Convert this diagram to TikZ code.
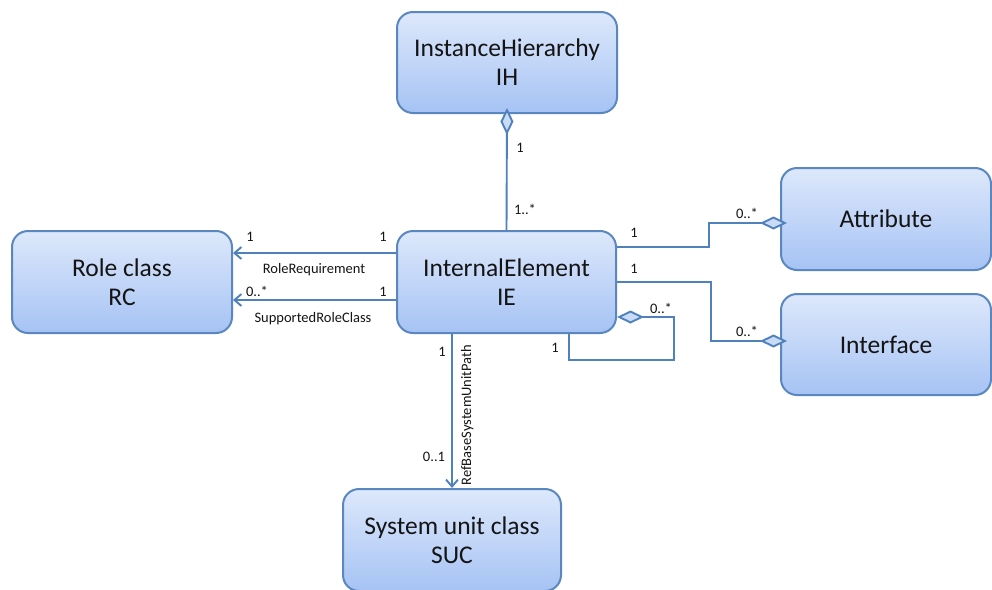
\documentclass[tikz,border=0pt]{standalone}
\usepackage{fontspec}
\setmainfont{Carlito}
\usetikzlibrary{arrows.meta}
\definecolor{boxtop}{HTML}{DDE8FB}
\definecolor{boxbot}{HTML}{A6C3F4}
\definecolor{boxline}{HTML}{5A87C0}
\definecolor{wireblue}{HTML}{4F81BD}
\definecolor{diafill}{HTML}{C9DBF6}
\definecolor{ink}{HTML}{141414}
\tikzset{
  cls/.style={draw=boxline, line width=2pt, rounded corners=16pt,
    top color=boxtop, bottom color=boxbot, align=center,
    font=\fontsize{25.5}{29}\selectfont, text=ink, inner sep=0pt},
  wire/.style={draw=wireblue, line width=1.9pt},
  nav/.style={wire, -{Straight Barb[length=7pt,width=12pt]}},
  aggstart/.style={wire, {Diamond[length=27pt,width=13pt,fill=diafill]}-},
  aggend/.style={wire, -{Diamond[length=27pt,width=13pt,fill=diafill]}},
  lbl/.style={font=\fontsize{14.5}{16}\selectfont, text=ink, inner sep=0pt, anchor=base},
}
\begin{document}
\begin{tikzpicture}[x=1pt,y=-1pt]
\useasboundingbox[fill=white] (0,0) rectangle (992,589);

% classes
\node[cls, minimum width=220pt, minimum height=101pt] (IH) at (507,62.5) {InstanceHierarchy\\IH};
\node[cls, minimum width=219pt, minimum height=102pt] (IE) at (506.5,282) {InternalElement\\IE};
\node[cls, minimum width=220pt, minimum height=102pt] (RC) at (122,282) {Role class\\RC};
\node[cls, minimum width=210pt, minimum height=102pt] (AT) at (886,219) {Attribute};
\node[cls, minimum width=210pt, minimum height=101pt] (IF) at (886,344.5) {Interface};
\node[cls, minimum width=218pt, minimum height=102pt] (SUC) at (452,540) {System unit class\\SUC};

% hierarchy aggregation
\draw[aggstart] ([yshift=6pt]IH.south) -- (IE.north);
\node[lbl] (ihA) at (520,152) {1};
\node[lbl] (ihB) at (525,214) {1..*};

% role associations
\draw[nav] ([yshift=29pt]IE.west) -- ([yshift=29pt]RC.east);
\draw[nav] ([yshift=-18pt]IE.west) -- ([yshift=-18pt]RC.east);
\node[lbl] (rrA) at (250,241) {1};
\node[lbl] (rrB) at (383,241) {1};
\node[lbl] (rrN) at (314,273) {RoleRequirement};
\node[lbl] (srA) at (257,296) {0..*};
\node[lbl] (srB) at (383,296) {1};
\node[lbl] (srN) at (313,322) {SupportedRoleClass};

% attribute and interface aggregations
\draw[aggend] ([yshift=35pt]IE.east) -- ++(92,0) |- ([xshift=7pt,yshift=-4pt]AT.west);
\draw[aggend] (IE.east) -- ++(94,0) |- ([xshift=7pt,yshift=3.5pt]IF.west);
\node[lbl] (atA) at (634,237) {1};
\node[lbl] (atB) at (747,218) {0..*};
\node[lbl] (ifA) at (634,273) {1};
\node[lbl] (ifB) at (747,336) {0..*};

% nested internal elements
\draw[aggstart] ([yshift=-35pt]IE.east) -- ++(57,0) -- ++(0,43) -| ([xshift=62.5pt]IE.south);
\node[lbl] (slA) at (661,313) {0..*};
\node[lbl] (slB) at (555,352) {1};

% system unit class reference
\draw[nav] ([xshift=-54.5pt]IE.south) -- (SUC.north);
\node[lbl] (sucA) at (442,356) {1};
\node[lbl] (sucB) at (434,461) {0..1};
\node[lbl, rotate=90] (sucN) at (471,415) {RefBaseSystemUnitPath};
\end{tikzpicture}
\end{document}
